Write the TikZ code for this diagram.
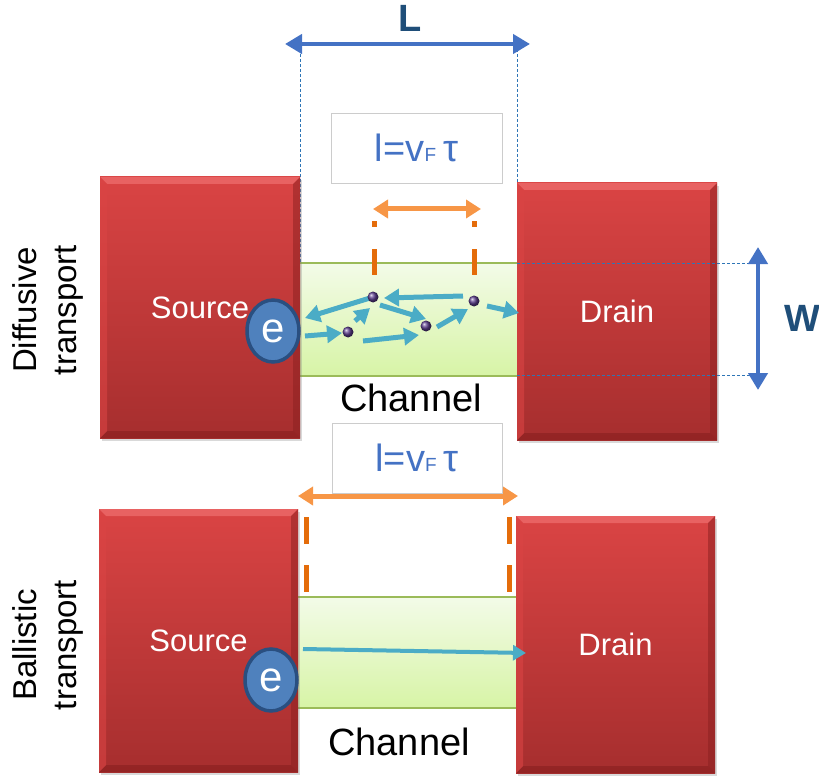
\documentclass[tikz,border=0pt]{standalone}
\usepackage{fontspec}
\setmainfont{Liberation Sans}
\usetikzlibrary{arrows.meta,shadows,shapes.geometric}
\definecolor{redtop}{HTML}{DA4444}
\definecolor{redbot}{HTML}{A62E2E}
\definecolor{redlight}{HTML}{E86262}
\definecolor{reddark}{HTML}{8A2020}
\definecolor{chtop}{HTML}{F3FBE8}
\definecolor{chbot}{HTML}{D7F4A6}
\definecolor{chline}{HTML}{9BBB59}
\definecolor{cyanarr}{HTML}{4BACC6}
\definecolor{orarr}{HTML}{F79646}
\definecolor{ordash}{HTML}{E46C0A}
\definecolor{bluearr}{HTML}{4472C4}
\definecolor{dimtext}{HTML}{1F4E79}
\definecolor{eblue}{HTML}{4F81BD}
\definecolor{eborder}{HTML}{2A4F80}
\definecolor{dotpurple}{HTML}{5A3C8C}
\definecolor{guide}{HTML}{2E75B6}
\definecolor{formula}{HTML}{4472C4}
\tikzset{
  redbox/.style={rectangle, minimum width=200pt, minimum height=#1, inner sep=0pt,
    text=white, font=\fontsize{31}{37}\selectfont,
    top color=redtop, bottom color=redbot,
    drop shadow={shadow xshift=2pt, shadow yshift=-3pt, opacity=0.3},
    path picture={
      \fill[redlight] (path picture bounding box.north west) -- (path picture bounding box.north east)
        -- ([shift={(-7pt,-7pt)}]path picture bounding box.north east)
        -- ([shift={(7pt,-7pt)}]path picture bounding box.north west) -- cycle;
      \fill[reddark,opacity=0.5] (path picture bounding box.north east) -- (path picture bounding box.south east)
        -- ([shift={(-7pt,7pt)}]path picture bounding box.south east)
        -- ([shift={(-7pt,-7pt)}]path picture bounding box.north east) -- cycle;
      \fill[reddark,opacity=0.65] (path picture bounding box.south west) -- (path picture bounding box.south east)
        -- ([shift={(-7pt,7pt)}]path picture bounding box.south east)
        -- ([shift={(7pt,7pt)}]path picture bounding box.south west) -- cycle;
      \fill[redtop,opacity=0.6] (path picture bounding box.north west) -- (path picture bounding box.south west)
        -- ([shift={(7pt,7pt)}]path picture bounding box.south west)
        -- ([shift={(7pt,-7pt)}]path picture bounding box.north west) -- cycle;
    }},
  chan/.style={rectangle, inner sep=0pt, top color=chtop, bottom color=chbot},
  chline/.style={draw=chline, line width=2pt},
  elec/.style={ellipse, minimum width=52pt, minimum height=62pt, inner sep=0pt,
    fill=eblue, draw=eborder, line width=3.5pt, text=white, font=\fontsize{42}{44}\selectfont},
  fbox/.style={rectangle, minimum width=171pt, minimum height=70pt, inner sep=0pt,
    draw=black!20, line width=0.8pt, fill=white, text=formula},
  lbl/.style={font=\fontsize{38}{44}\selectfont, text=black, inner sep=0pt},
  side/.style={font=\fontsize{33}{40}\selectfont, text=black, align=center, rotate=90, inner sep=0pt},
  dim/.style={font=\bfseries\fontsize{38}{44}\selectfont, text=dimtext, inner sep=0pt},
  dimarrow/.style={draw=bluearr, line width=4.5pt, {Triangle[length=17pt,width=19pt]}-{Triangle[length=17pt,width=19pt]}},
  guideline/.style={draw=guide, line width=0.8pt, densely dashed},
  orarrow/.style={draw=orarr, line width=5pt, {Triangle[length=15pt,width=18pt]}-{Triangle[length=15pt,width=18pt]}},
  ordashline/.style={draw=ordash, line width=5pt},
  cyarrow/.style={draw=cyanarr, line width=5pt, -{Triangle[length=15pt,width=17pt]}},
  pdot/.style={circle, minimum size=11pt, inner sep=0pt, ball color=dotpurple},
}
\newcommand{\formulatext}{{\fontsize{38}{40}\selectfont l=v}{\fontsize{19}{20}\selectfont F}\hspace{7pt}{\fontsize{38}{40}\selectfont τ}}
\begin{document}
\begin{tikzpicture}[x=1pt,y=-1pt]
\useasboundingbox (0,0) rectangle (819,778);

% ---------- top (diffusive) ----------
\coordinate (gL1) at (300,44);
\coordinate (gL2) at (300,263);
\coordinate (gR1) at (517.5,44);
\coordinate (gR2) at (517.5,263);
\draw[guideline] (gL1) -- (gL2);
\draw[guideline] (gR1) -- (gR2);

\coordinate (Ls) at (285,44);
\coordinate (Le) at (530,44);
\draw[dimarrow] (Ls) -- (Le);
\node[dim] (Ltext) at (410,18) {L};

\node[fbox] (f1) at (416.5,148) {\formulatext};

\node[chan, minimum width=217pt, minimum height=113pt] (ch1) at (408.5,319.5) {};
\draw[chline] (ch1.north west) -- (ch1.north east);
\draw[chline] (ch1.south west) -- (ch1.south east);

\node[redbox=261pt] (src1) at (200,307.5) {Source};
\node[redbox=257pt] (drn1) at (617,311.5) {Drain};

\node[lbl] (cht1) at (411,398) {Channel};

% orange mean-free-path marker
\coordinate (o1a) at (373,209);
\coordinate (o1b) at (481,209);
\draw[orarrow] (o1a) -- (o1b);
\coordinate (d1a) at (374,221.5);
\coordinate (d1b) at (374,227);
\coordinate (d1c) at (374,249);
\coordinate (d1d) at (374,275);
\coordinate (d2a) at (474,221.5);
\coordinate (d2b) at (474,227);
\coordinate (d2c) at (474,249);
\coordinate (d2d) at (474,275);
\draw[ordashline] (d1a) -- (d1b);
\draw[ordashline] (d1c) -- (d1d);
\draw[ordashline] (d2a) -- (d2b);
\draw[ordashline] (d2c) -- (d2d);

% scattering path
\coordinate (a1s) at (305,336);  \coordinate (a1e) at (342,333);
\coordinate (a2s) at (355,321);  \coordinate (a2e) at (370,308);
\coordinate (a3s) at (370,298);  \coordinate (a3e) at (305,318);
\coordinate (a4s) at (363,341);  \coordinate (a4e) at (419,335);
\coordinate (a5s) at (380,305);  \coordinate (a5e) at (426,319);
\coordinate (a6s) at (463,296);  \coordinate (a6e) at (384,298);
\coordinate (a7s) at (437,327);  \coordinate (a7e) at (468,309);
\coordinate (a8s) at (487,306);  \coordinate (a8e) at (519,313);
\draw[cyarrow] (a1s) -- (a1e);
\draw[cyarrow] (a2s) -- (a2e);
\draw[cyarrow] (a3s) -- (a3e);
\draw[cyarrow] (a4s) -- (a4e);
\draw[cyarrow] (a5s) -- (a5e);
\draw[cyarrow] (a6s) -- (a6e);
\draw[cyarrow] (a7s) -- (a7e);
\draw[cyarrow] (a8s) -- (a8e);
\node[pdot] (p1) at (373,297) {};
\node[pdot] (p2) at (348,332) {};
\node[pdot] (p3) at (426,326) {};
\node[pdot] (p4) at (474,301) {};

\node[elec] (e1) at (273,331) {e};

% W dimension
\coordinate (gw1a) at (517,263);
\coordinate (gw1b) at (752,263);
\coordinate (gw2a) at (517,375);
\coordinate (gw2b) at (752,375);
\draw[guideline] (gw1a) -- (gw1b);
\draw[guideline] (gw2a) -- (gw2b);
\coordinate (Ws) at (758,247);
\coordinate (We) at (758,390);
\draw[dimarrow] (Ws) -- (We);
\node[dim, anchor=west] (Wtext) at (784,318) {W};

\node[side] (sideA) at (48,310) {Diffusive\\transport};

% ---------- bottom (ballistic) ----------
\node[fbox, minimum width=170pt] (f2) at (417,458) {\formulatext};

\node[chan, minimum width=220pt, minimum height=111pt] (ch2) at (407,652.5) {};
\draw[chline] (ch2.north west) -- (ch2.north east);
\draw[chline] (ch2.south west) -- (ch2.south east);

\node[redbox=263pt, minimum width=199pt] (src2) at (198.5,640.5) {Source};
\node[redbox=257pt, minimum width=199pt] (drn2) at (615.5,644.5) {Drain};

\node[lbl] (cht2) at (399,742) {Channel};

\coordinate (o2a) at (298,496);
\coordinate (o2b) at (518,496);
\draw[orarrow] (o2a) -- (o2b);
\coordinate (d3a) at (306,517);
\coordinate (d3b) at (306,544);
\coordinate (d3c) at (306,565);
\coordinate (d3d) at (306,592);
\coordinate (d4a) at (509,517);
\coordinate (d4b) at (509,544);
\coordinate (d4c) at (509,565);
\coordinate (d4d) at (509,592);
\draw[ordashline] (d3a) -- (d3b);
\draw[ordashline] (d3c) -- (d3d);
\draw[ordashline] (d4a) -- (d4b);
\draw[ordashline] (d4c) -- (d4d);

\coordinate (bs) at (303,649);
\coordinate (be) at (526,653);
\draw[cyarrow, line width=4pt, -{Triangle[length=13pt,width=15pt]}] (bs) -- (be);

\node[elec] (e2) at (271,680) {e};

\node[side] (sideB) at (48,645) {Ballistic\\transport};
\end{tikzpicture}
\end{document}
